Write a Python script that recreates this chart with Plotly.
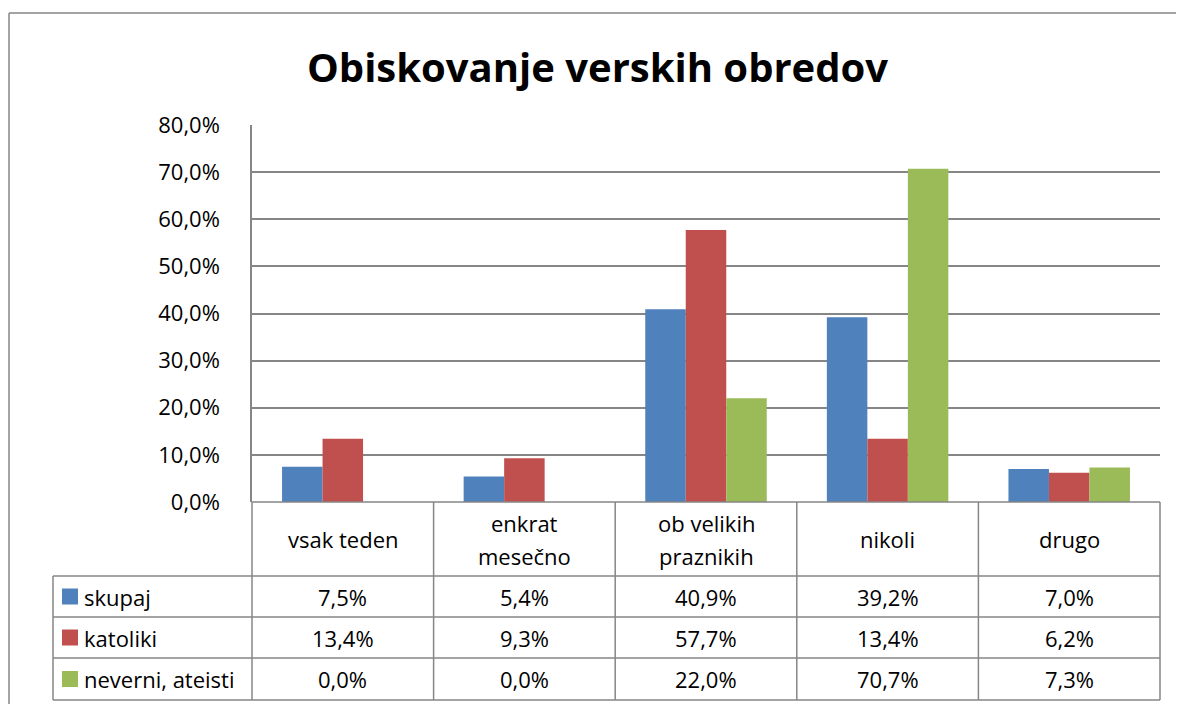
import plotly.graph_objects as go

categories = ["vsak teden", "enkrat<br>mesečno", "ob velikih<br>praznikih", "nikoli", "drugo"]
series_names = ["skupaj", "katoliki", "neverni, ateisti"]
skupaj = [7.5, 5.4, 40.9, 39.2, 7.0]
katoliki = [13.4, 9.3, 57.7, 13.4, 6.2]
neverni = [0.0, 0.0, 22.0, 70.7, 7.3]
colors = ["#4F81BD", "#C0504D", "#9BBB59"]
title_text = "Obiskovanje verskih obredov"
y_ticks = [0, 10, 20, 30, 40, 50, 60, 70, 80]
y_ticktext = [f"{v:.1f}%".replace(".", ",") for v in y_ticks]

# page body has an 8px margin; figure is shrunk so that it fits exactly
OFF = 8
W, H = 1184 - OFF, 704 - OFF
FONT = "Open Sans"
GRID = "#868686"

def px(x):
    return (x - OFF) / W

def py(y):
    return 1 - (y - OFF) / H

# layout geometry (reference pixels)
PL, PR, PT, PB = 252, 1160, 125, 502
ROW_Y = [502, 576, 617, 658, 700]
LEG_L = 53
LINE_SP = 33

series = [skupaj, katoliki, neverni]

fig = go.Figure()
for name, vals, col in zip(series_names, series, colors):
    fig.add_trace(go.Bar(
        x=list(range(len(categories))), y=vals, name=name,
        marker=dict(color=col, line=dict(width=0)),
        hoverinfo="skip",
    ))

shapes = []
annotations = []
line = dict(color=GRID, width=1.5)

# outer chart border (left and top)
shapes.append(dict(type="line", xref="paper", yref="paper", x0=px(9), x1=px(1190), y0=py(13), y1=py(13), line=line))
shapes.append(dict(type="line", xref="paper", yref="paper", x0=px(9), x1=px(9), y0=py(13), y1=py(710), line=line))

ncat = len(categories)
colw = (PR - PL) / ncat
shapes.append(dict(type="line", xref="paper", yref="paper", x0=px(PL), x1=px(PR), y0=py(ROW_Y[0]), y1=py(ROW_Y[0]), line=line))
for yy in ROW_Y[1:]:
    shapes.append(dict(type="line", xref="paper", yref="paper", x0=px(LEG_L), x1=px(PR), y0=py(yy), y1=py(yy), line=line))
for i in range(ncat + 1):
    xx = PL + i * colw
    shapes.append(dict(type="line", xref="paper", yref="paper", x0=px(xx), x1=px(xx), y0=py(ROW_Y[0]), y1=py(ROW_Y[-1]), line=line))
shapes.append(dict(type="line", xref="paper", yref="paper", x0=px(LEG_L), x1=px(LEG_L), y0=py(ROW_Y[1]), y1=py(ROW_Y[-1]), line=line))

tfont = dict(family=FONT, size=22, color="#000000")
for i, c in enumerate(categories):
    parts = c.split("<br>")
    yc = (ROW_Y[0] + ROW_Y[1]) / 2
    for k, part in enumerate(parts):
        yk = yc + (k - (len(parts) - 1) / 2) * LINE_SP
        annotations.append(dict(text=part, xref="paper", yref="paper", x=px(PL + (i + 0.5) * colw),
                                y=py(yk), showarrow=False, font=tfont,
                                xanchor="center", yanchor="middle", align="center"))
for r, (name, vals, col) in enumerate(zip(series_names, series, colors)):
    yc = (ROW_Y[r + 1] + ROW_Y[r + 2]) / 2
    shapes.append(dict(type="rect", xref="paper", yref="paper", x0=px(62), x1=px(78),
                       y0=py(yc - 8), y1=py(yc + 8), fillcolor=col, line=dict(width=0)))
    annotations.append(dict(text=name, xref="paper", yref="paper", x=px(82), y=py(yc),
                            showarrow=False, font=tfont, xanchor="left", yanchor="middle"))
    for i, v in enumerate(vals):
        annotations.append(dict(text=f"{v:.1f}%".replace(".", ","), xref="paper", yref="paper",
                                x=px(PL + (i + 0.5) * colw), y=py(yc), showarrow=False,
                                font=tfont, xanchor="center", yanchor="middle"))

annotations.append(dict(text=f"<b>{title_text}</b>", xref="paper", yref="paper", x=px(598), y=py(67),
                        showarrow=False, font=dict(family=FONT, size=40, color="#000000"),
                        xanchor="center", yanchor="middle"))

fig.update_layout(
    width=W, height=H,
    margin=dict(l=0, r=0, t=0, b=0, pad=0, autoexpand=False),
    paper_bgcolor="white", plot_bgcolor="white",
    showlegend=False,
    barmode="group",
    bargap=0.331, bargroupgap=0,
    shapes=shapes, annotations=annotations,
    xaxis=dict(domain=[px(PL), px(PR)], range=[-0.5, ncat - 0.5], showticklabels=False,
               showgrid=False, zeroline=False, showline=False, fixedrange=True, automargin=False),
    yaxis=dict(domain=[py(PB), py(PT)], range=[0, 80], tickvals=y_ticks, ticktext=y_ticktext,
               showgrid=True, gridcolor=GRID, gridwidth=1.5,
               zeroline=False, showline=True, linecolor=GRID, linewidth=1.5,
               tickfont=dict(family=FONT, size=22, color="#000000"), ticks="",
               ticklabelstandoff=26, fixedrange=True, automargin=False),
)

fig.write_html("out.html")
